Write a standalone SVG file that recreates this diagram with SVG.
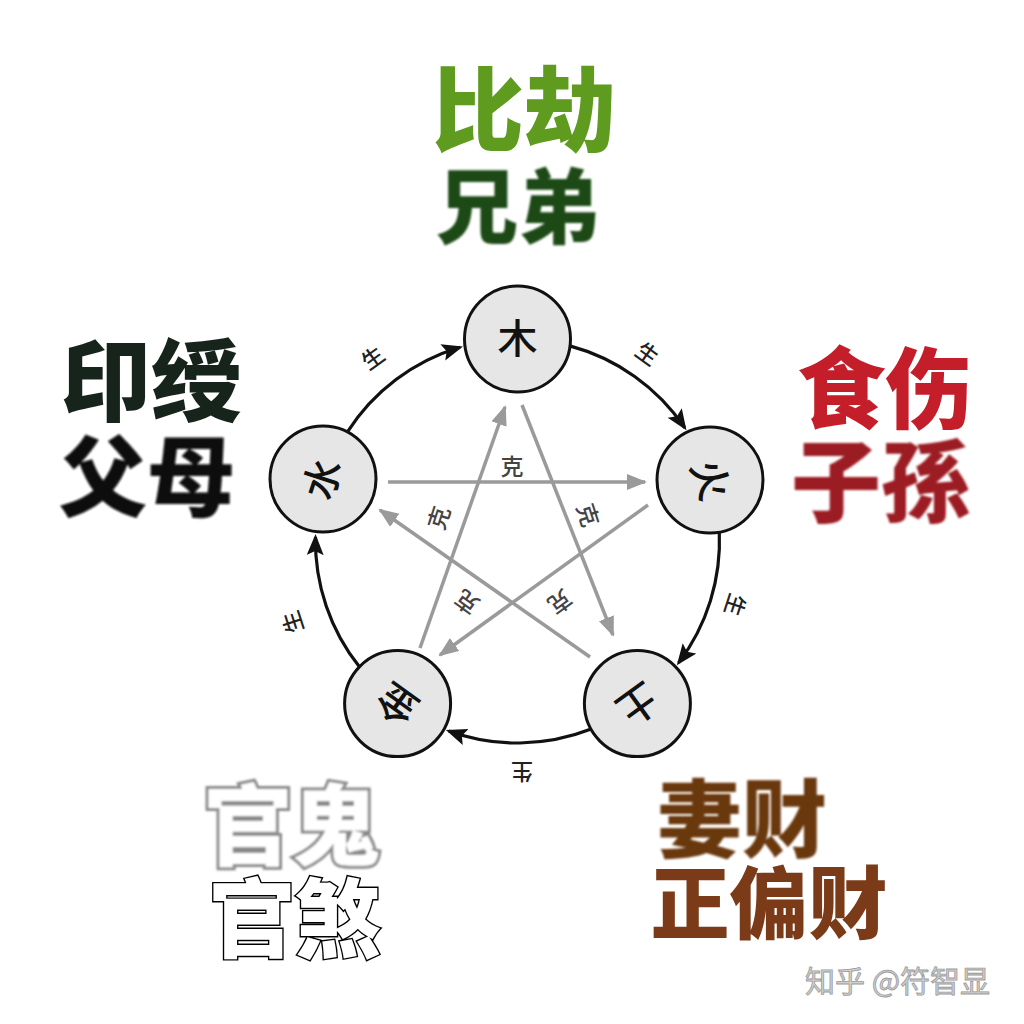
<svg xmlns="http://www.w3.org/2000/svg" width="1024" height="1024" viewBox="0 0 1024 1024">
<defs>
<style>
.big{font-family:"Noto Sans CJK SC","Noto Sans CJK TC",sans-serif;font-weight:900;text-anchor:middle}
.node circle{fill:#e6e6e6;stroke:#111;stroke-width:3}
.node text{font-family:"Noto Sans CJK SC",sans-serif;font-size:40px;font-weight:500;fill:#111;text-anchor:middle}
.sheng{font-family:"Noto Sans CJK SC",sans-serif;font-size:22px;font-weight:500;fill:#222;text-anchor:middle}
.ke{font-family:"Noto Sans CJK SC",sans-serif;font-size:23px;font-weight:500;fill:#444;text-anchor:middle}
.ring{fill:none;stroke:#111;stroke-width:3.2;marker-end:url(#ab)}
.star{fill:none;stroke:#9a9a9a;stroke-width:3.5;marker-end:url(#ag)}
</style>
<marker id="ab" markerUnits="userSpaceOnUse" markerWidth="22" markerHeight="18" refX="18" refY="8.5" orient="auto"><path d="M0,0 L21,8.5 L0,17 L4,8.5 z" fill="#111"/></marker>
<marker id="ag" markerUnits="userSpaceOnUse" markerWidth="22" markerHeight="18" refX="18" refY="8" orient="auto"><path d="M0,0 L20,8 L0,16 z" fill="#9a9a9a"/></marker>
<filter id="soft" x="-10%" y="-10%" width="120%" height="120%"><feGaussianBlur stdDeviation="1.2"/></filter>
</defs>
<rect width="1024" height="1024" fill="#ffffff"/>

<g id="connectors">
<path class="ring" d="M569.8,345.9 A202,202 0 0 1 684.8,427.8"/>
<path class="ring" d="M719.3,531.8 A202,202 0 0 1 678.6,662.8"/>
<path class="ring" d="M591.2,729.1 A202,202 0 0 1 448.7,730.9"/>
<path class="ring" d="M359.6,667.0 A202,202 0 0 1 315.5,537.1"/>
<path class="ring" d="M347.3,432.2 A202,202 0 0 1 460.1,347.3"/>
<line class="star" x1="388" y1="482" x2="645" y2="482"/>
<line class="star" x1="522" y1="405" x2="613" y2="635"/>
<line class="star" x1="648" y1="505" x2="440" y2="655"/>
<line class="star" x1="590" y1="657" x2="380" y2="510"/>
<line class="star" x1="420" y1="648" x2="505" y2="407"/>
<text class="sheng" transform="translate(373,358) rotate(-36)" dy="8">生</text>
<text class="sheng" transform="translate(647,354) rotate(36)" dy="8">生</text>
<text class="sheng" transform="translate(735,605) rotate(108)" dy="8">生</text>
<text class="sheng" transform="translate(522,772) rotate(180)" dy="8">生</text>
<text class="sheng" transform="translate(293,622) rotate(252)" dy="8">生</text>
<text class="ke" transform="translate(512,466)" dy="8.5">克</text>
<text class="ke" transform="translate(588,515) rotate(72)" dy="8.5">克</text>
<text class="ke" transform="translate(560,602) rotate(144)" dy="8.5">克</text>
<text class="ke" transform="translate(467,602) rotate(216)" dy="8.5">克</text>
<text class="ke" transform="translate(439,518) rotate(288)" dy="8.5">克</text>
</g>

<g id="node-mu" class="node"><circle cx="517.5" cy="339" r="53"/><text transform="translate(517.5,339)" dy="14">木</text></g>
<g id="node-huo" class="node"><circle cx="710" cy="480" r="53"/><text transform="translate(710,480) rotate(72)" dy="14">火</text></g>
<g id="node-tu" class="node"><circle cx="637.4" cy="703.6" r="53"/><text transform="translate(637.4,703.6) rotate(144)" dy="14">土</text></g>
<g id="node-jin" class="node"><circle cx="397.6" cy="703.6" r="53"/><text transform="translate(397.6,703.6) rotate(216)" dy="14">金</text></g>
<g id="node-shui" class="node"><circle cx="323" cy="479" r="53"/><text transform="translate(323,479) rotate(288)" dy="14">水</text></g>

<g id="label-bijie">
<text class="big" x="524" y="144" font-size="92" fill="#5e9b1f">比劫</text>
<text class="big" x="518" y="237" font-size="82" fill="#1d4a14" filter="url(#soft)">兄弟</text>
</g>
<g id="label-yinshou">
<text class="big" x="151" y="414" font-size="90" fill="#16241c">印绶</text>
<text class="big" x="147" y="509" font-size="88" fill="#0a0a0a" filter="url(#soft)">父母</text>
</g>
<g id="label-shishang">
<text class="big" x="885" y="421" font-size="88" fill="#c41e2a">食伤</text>
<text class="big" x="881" y="515" font-size="90" fill="#9b1a22" filter="url(#soft)">子孫</text>
</g>
<g id="label-guangui">
<text class="big" x="292" y="858" font-size="88" fill="#ffffff" stroke="#8a8a8a" stroke-width="6" paint-order="stroke" filter="url(#soft)">官鬼</text>
<text class="big" x="295" y="951" font-size="86" fill="#ffffff" stroke="#000" stroke-width="2.8" paint-order="stroke">官煞</text>
</g>
<g id="label-qicai">
<text class="big" x="742" y="851" font-size="85" fill="#6a3810" filter="url(#soft)">妻财</text>
<text class="big" x="769" y="933" font-size="79" fill="#7b3a18">正偏财</text>
</g>
<text x="805" y="992" font-family="Noto Sans CJK SC, sans-serif" font-size="30" fill="#d0d0d0" stroke="#9a9a9a" stroke-width="0.8">知乎 @符智显</text>
</svg>
